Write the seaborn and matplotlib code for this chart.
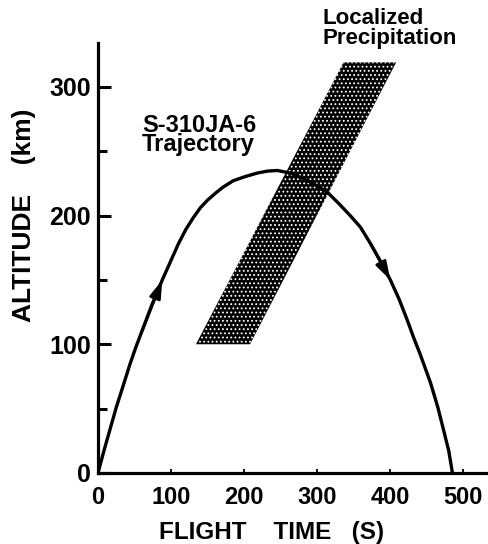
import matplotlib
matplotlib.use("Agg")
import matplotlib.pyplot as plt
import seaborn as sns
import pandas as pd

# ---- data ----
flight_time = [0, 8, 16, 25, 34, 44, 52, 60, 74, 88, 99, 110, 120, 130, 140, 150, 160,
               171, 185, 200, 218, 232, 245, 263, 280, 297, 314, 330, 345, 359, 372,
               386, 400, 412, 423, 432, 441, 448, 455, 465, 473, 480, 485]
altitude = [0, 17, 33, 51, 67, 85, 98, 110, 131, 150, 164, 178, 189, 198, 206, 212, 217,
            222, 227, 230, 233, 234.5, 235, 233, 229, 224, 218, 209, 200, 191, 179,
            165, 150, 135, 119, 105, 92, 81, 70, 51, 33, 17, 0]

band_time = [134, 208, 408, 336]
band_alt = [100, 100, 319, 319]

x_ticks = [0, 100, 200, 300, 400, 500]
y_ticks = [0, 100, 200, 300]
y_minor = [50, 150, 250]

up_arrow = (7, 9)     # indices into trajectory (from, to)
down_arrow = (30, 32)

traj_label = "S-310JA-6\nTrajectory"
band_label = "Localized\nPrecipitation"
xlabel = "FLIGHT    TIME   (S)"
ylabel = "ALTITUDE    (km)"

# ---- plotting ----
sns.set_theme(style="ticks")
plt.rcParams["font.family"] = ["Liberation Sans", "DejaVu Sans"]
plt.rcParams["font.weight"] = "bold"
plt.rcParams["hatch.linewidth"] = 0.8
plt.rcParams["text.color"] = "black"
plt.rcParams["axes.labelcolor"] = "black"
plt.rcParams["xtick.color"] = "black"
plt.rcParams["ytick.color"] = "black"

fig = plt.figure(figsize=(4.89, 5.44), dpi=100)
ax = fig.add_axes([98 / 489, 71 / 544, 391 / 489, 430 / 544])

df = pd.DataFrame({"t": flight_time, "alt": altitude})

ax.fill(band_time, band_alt, facecolor="#000000", edgecolor="white",
        linewidth=0, hatch="....", zorder=2)

sns.lineplot(data=df, x="t", y="alt", ax=ax, color="black", linewidth=2.4,
             estimator=None, sort=False, zorder=3)

for i0, i1 in (up_arrow, down_arrow):
    ax.annotate("", xy=(flight_time[i1], altitude[i1]),
                xytext=(flight_time[i0], altitude[i0]),
                arrowprops=dict(arrowstyle="-|>,head_length=0.9,head_width=0.28",
                                color="black", lw=2.0, mutation_scale=12,
                                shrinkA=0, shrinkB=0),
                zorder=4)

ax.set_xlim(0, 535)
ax.set_ylim(0, 334)
ax.set_xticks(x_ticks)
ax.set_yticks(y_ticks)
ax.set_yticks(y_minor, minor=True)
ax.set_xticklabels([str(v) for v in x_ticks], fontsize=17, fontweight="bold", color="black")
ax.set_yticklabels([str(v) for v in y_ticks], fontsize=18, fontweight="bold", color="black")

for s in ("top", "right"):
    ax.spines[s].set_visible(False)
for s in ("left", "bottom"):
    ax.spines[s].set_linewidth(2.3)
    ax.spines[s].set_color("black")

ax.tick_params(axis="y", which="major", direction="in", length=9.5, width=2.2,
               pad=5, colors="black")
ax.tick_params(axis="y", which="minor", direction="in", length=6.5, width=2.2,
               colors="black")
ax.tick_params(axis="x", which="major", direction="in", length=3, width=1.3,
               pad=9, colors="black")

ax.set_xlabel(xlabel, fontsize=17.5, fontweight="bold", color="black")
ax.xaxis.set_label_coords(0.445, -0.112)
ax.set_ylabel(ylabel, fontsize=19, fontweight="bold", color="black")
ax.yaxis.set_label_coords(-0.158, 0.60)

ax.text(60, 279, traj_label, fontsize=17, fontweight="bold", va="top",
        ha="left", linespacing=0.8, color="black")
ax.text(307, 361, band_label, fontsize=16, fontweight="bold", va="top",
        ha="left", linespacing=0.9, clip_on=False, color="black")

ax.set_facecolor("white")
fig.patch.set_facecolor("white")
fig.savefig("out.png", dpi=100)
